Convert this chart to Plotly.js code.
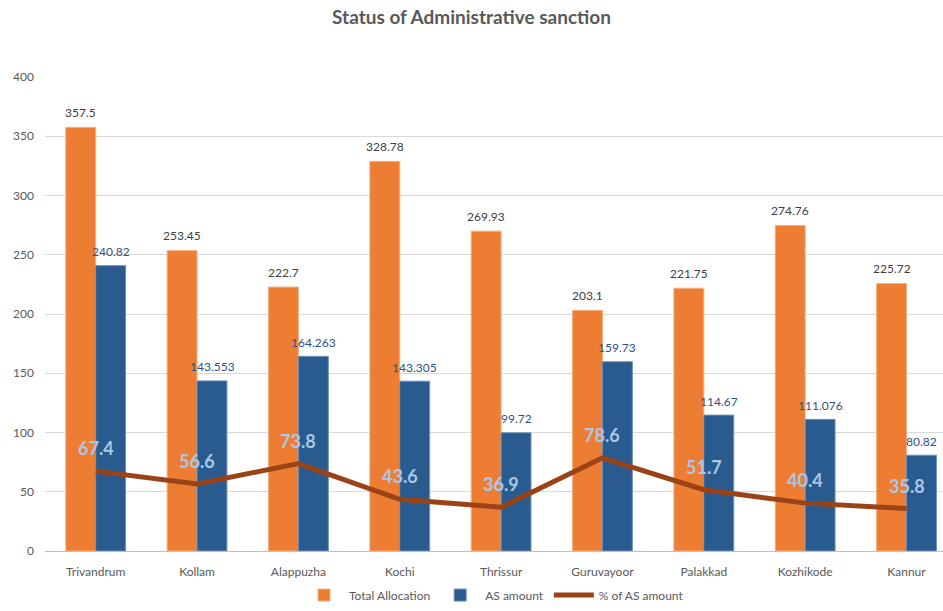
<!DOCTYPE html>
<html>
<head>
<meta charset="utf-8">
<script src="https://cdn.plot.ly/plotly-3.0.1.min.js"></script>
<style>html,body{margin:0;padding:0;background:#fff;}#chart{width:943px;height:611px;}</style>
</head>
<body>
<div id="chart"></div>
<script>
var categories = ["Trivandrum","Kollam","Alappuzha","Kochi","Thrissur","Guruvayoor","Palakkad","Kozhikode","Kannur"];
var totalAllocation = [357.5, 253.45, 222.7, 328.78, 269.93, 203.1, 221.75, 274.76, 225.72];
var asAmount = [240.82, 143.553, 164.263, 143.305, 99.72, 159.73, 114.67, 111.076, 80.82];
var pctAS = [67.4, 56.6, 73.8, 43.6, 36.9, 78.6, 51.7, 40.4, 35.8];
var yTicks = [0, 50, 100, 150, 200, 250, 300, 350, 400];

var FONT = "Lato, 'Open Sans', sans-serif";
var ORANGE = "#ee7d34";
var BLUE = "#2a5b8f";
var LINE = "#9a4316";

var traces = [
  {type:"bar", name:"Total Allocation", x:categories, y:totalAllocation,
   marker:{color:ORANGE, line:{color:"#f3b07f", width:1}}, hoverinfo:"skip"},
  {type:"bar", name:"AS amount", x:categories, y:asAmount,
   marker:{color:BLUE, line:{color:"#6f8fb5", width:1}}, hoverinfo:"skip"},
  {type:"scatter", mode:"lines", name:"% of AS amount", x:categories, y:pctAS,
   line:{color:LINE, width:5}, hoverinfo:"skip"}
];

var annotations = [];
categories.forEach(function(c, i){
  annotations.push({x:c, y:totalAllocation[i], text:String(totalAllocation[i]), showarrow:false,
    xshift:-15, yshift:15, yanchor:"middle", font:{family:FONT, size:12, color:"#404040"}});
  annotations.push({x:c, y:asAmount[i], text:String(asAmount[i]), showarrow:false,
    xshift:15, yshift:14, yanchor:"middle", font:{family:FONT, size:12, color:"#2f4f8a"}});
  annotations.push({x:c, y:pctAS[i], text:"<b>"+pctAS[i]+"</b>", showarrow:false,
    xshift:0, yshift:23, yanchor:"middle", font:{family:FONT, size:18, color:"#a9c8e8"}});
});

var layout = {
  width:943, height:611,
  margin:{l:45, r:0, t:77, b:60},
  paper_bgcolor:"#fff", plot_bgcolor:"#fff",
  title:{text:"<b>Status of Administrative sanction</b>", x:0.5, xanchor:"center", y:0.972, yanchor:"middle",
    font:{family:FONT, size:19, color:"#595959"}},
  barmode:"group", bargap:0.41, bargroupgap:0,
  xaxis:{range:[-0.5, 8.36], showgrid:false, zeroline:false, showline:false, ticks:"", ticklabelstandoff:12,
    automargin:false, tickfont:{family:FONT, size:12, color:"#595959"}, fixedrange:true},
  yaxis:{range:[0,400], tickvals:yTicks, ticktext:yTicks.map(String), showgrid:true, gridcolor:"#d9d9d9", gridwidth:1,
    zeroline:true, zerolinecolor:"#bfbfbf", zerolinewidth:1, showline:false, ticks:"", ticklabelstandoff:10,
    automargin:false, tickfont:{family:FONT, size:12, color:"#595959"}, fixedrange:true},
  showlegend:true,
  legend:{orientation:"h", x:0.5, xanchor:"center", y:-0.093, yanchor:"middle",
    font:{family:FONT, size:12, color:"#595959"}, traceorder:"normal", itemwidth:40},
  annotations:annotations,
  hovermode:false
};

Plotly.newPlot("chart", traces, layout, {displayModeBar:false, staticPlot:true});
</script>
</body>
</html>
